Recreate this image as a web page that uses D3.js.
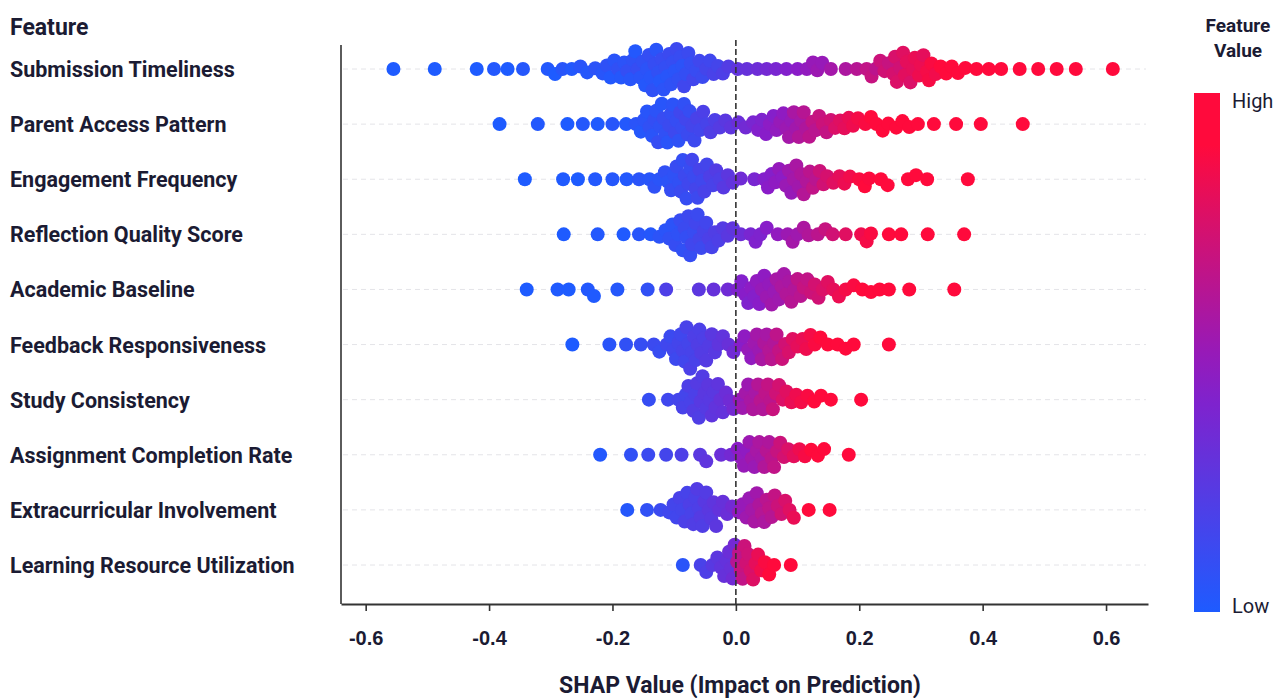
<!DOCTYPE html>
<html>
<head>
<meta charset="utf-8">
<script src="https://cdn.jsdelivr.net/npm/d3@7"></script>
<style>
  html, body { margin: 0; padding: 0; background: #fff; }
  svg { display: block; font-family: Roboto, "Noto Sans", sans-serif; }
</style>
</head>
<body>
<script>
// SHAP beeswarm: one row per feature, each dot is [shap value, feature value 0..1].
const features = [
  "Submission Timeliness", "Parent Access Pattern", "Engagement Frequency",
  "Reflection Quality Score", "Academic Baseline", "Feedback Responsiveness",
  "Study Consistency", "Assignment Completion Rate", "Extracurricular Involvement",
  "Learning Resource Utilization"
];
const xTicks = [-0.6, -0.4, -0.2, 0.0, 0.2, 0.4, 0.6];

const submissionTimeliness = [
  [-0.555,0],[-0.488,0],[-0.42,0],[-0.392,0.02],[-0.37,0],[-0.345,0.03],
  [-0.305,0.02],[-0.293,0],[-0.281,0.04],[-0.266,0.02],[-0.252,0.05],[-0.241,0.03],[-0.228,0.06],
  [-0.216,0.04],[-0.209,0.07],[-0.203,0.02],[-0.197,0.05],[-0.191,0.08],[-0.186,0.03],[-0.181,0.06],
  [-0.176,0.09],[-0.171,0.04],[-0.167,0.07],[-0.163,0.02],[-0.159,0.1],[-0.155,0.05],[-0.151,0.08],
  [-0.147,0.03],[-0.144,0.06],[-0.141,0.09],[-0.138,0.04],[-0.135,0.07],[-0.132,0.1],[-0.129,0.05],
  [-0.126,0.08],[-0.123,0.03],[-0.12,0.11],[-0.117,0.06],[-0.114,0.09],[-0.111,0.04],[-0.108,0.12],
  [-0.105,0.07],[-0.102,0.1],[-0.099,0.05],[-0.096,0.13],[-0.093,0.08],[-0.09,0.11],[-0.087,0.06],
  [-0.084,0.14],[-0.081,0.09],[-0.077,0.12],[-0.073,0.1],[-0.069,0.15],[-0.064,0.11],[-0.059,0.14],
  [-0.054,0.12],[-0.048,0.16],[-0.042,0.14],[-0.036,0.18],[-0.029,0.16],[-0.021,0.2],[-0.012,0.22],
  [0.003,0.28],[0.018,0.3],[0.035,0.33],[0.05,0.36],[0.065,0.38],[0.082,0.42],[0.1,0.45],[0.115,0.48],
  [0.125,0.5],[0.132,0.52],[0.14,0.5],[0.154,0.55],[0.178,0.58],[0.196,0.62],[0.212,0.66],[0.22,0.68],
  [0.227,0.64],[0.234,0.7],[0.241,0.72],[0.248,0.68],[0.255,0.74],[0.258,0.75],[0.261,0.76],[0.266,0.72],
  [0.271,0.78],[0.274,0.79],[0.277,0.8],[0.283,0.76],[0.287,0.8],[0.29,0.82],[0.297,0.84],[0.3,0.83],
  [0.304,0.8],[0.31,0.86],[0.313,0.87],[0.317,0.88],[0.324,0.85],[0.332,0.9],[0.341,0.92],[0.35,0.9],
  [0.36,0.94],[0.372,0.95],[0.39,0.96],[0.41,0.97],[0.43,0.98],[0.46,0.99],[0.49,1],[0.52,1],[0.551,1],[0.611,1]
];
const parentAccessPattern = [
  [-0.383,0],[-0.321,0.02],[-0.273,0],[-0.248,0.03],[-0.224,0.01],[-0.2,0.04],[-0.178,0.02],[-0.162,0.05],
  [-0.154,0.03],[-0.149,0.06],[-0.144,0.04],[-0.14,0.08],[-0.136,0.05],[-0.132,0.09],[-0.129,0.06],
  [-0.126,0.1],[-0.123,0.07],[-0.12,0.04],[-0.117,0.11],[-0.114,0.08],[-0.111,0.05],[-0.108,0.12],
  [-0.105,0.09],[-0.102,0.06],[-0.099,0.13],[-0.096,0.1],[-0.093,0.07],[-0.09,0.14],[-0.087,0.11],
  [-0.084,0.08],[-0.081,0.15],[-0.078,0.12],[-0.075,0.1],[-0.071,0.16],[-0.067,0.13],[-0.063,0.18],
  [-0.058,0.15],[-0.053,0.19],[-0.047,0.17],[-0.041,0.21],[-0.034,0.2],[-0.026,0.23],[-0.017,0.25],[-0.008,0.27],
  [0.004,0.32],[0.016,0.35],[0.028,0.38],[0.036,0.42],[0.042,0.4],[0.049,0.44],[0.055,0.46],[0.061,0.43],
  [0.066,0.48],[0.072,0.5],[0.077,0.47],[0.082,0.52],[0.086,0.55],[0.09,0.5],[0.094,0.57],[0.098,0.54],
  [0.102,0.6],[0.106,0.56],[0.11,0.62],[0.114,0.59],[0.119,0.64],[0.124,0.66],[0.129,0.63],[0.135,0.68],
  [0.141,0.7],[0.147,0.67],[0.154,0.72],[0.161,0.76],[0.169,0.78],[0.176,0.8],[0.183,0.82],[0.19,0.84],
  [0.198,0.86],[0.21,0.88],[0.219,0.9],[0.228,0.92],[0.238,0.9],[0.247,0.93],[0.26,0.95],[0.27,0.94],
  [0.281,0.96],[0.295,0.97],[0.321,0.98],[0.357,1],[0.397,1],[0.465,1]
];
const engagementFrequency = [
  [-0.342,0],[-0.28,0.01],[-0.256,0],[-0.228,0.02],[-0.2,0.03],[-0.177,0.02],[-0.157,0.05],[-0.14,0.04],
  [-0.132,0.07],[-0.124,0.05],[-0.115,0.08],[-0.11,0.06],[-0.105,0.1],[-0.1,0.07],[-0.096,0.11],
  [-0.092,0.08],[-0.089,0.12],[-0.086,0.09],[-0.083,0.13],[-0.08,0.1],[-0.077,0.14],[-0.074,0.11],
  [-0.071,0.15],[-0.068,0.12],[-0.065,0.16],[-0.062,0.13],[-0.059,0.17],[-0.055,0.14],[-0.051,0.18],
  [-0.047,0.16],[-0.042,0.2],[-0.037,0.18],[-0.032,0.22],[-0.026,0.2],[-0.02,0.24],[-0.013,0.26],[-0.005,0.28],
  [0.008,0.34],[0.03,0.38],[0.046,0.42],[0.052,0.45],[0.058,0.43],[0.064,0.47],[0.07,0.49],[0.076,0.46],
  [0.081,0.51],[0.086,0.53],[0.09,0.5],[0.094,0.55],[0.098,0.57],[0.102,0.54],[0.106,0.59],[0.11,0.61],
  [0.115,0.6],[0.12,0.64],[0.125,0.66],[0.13,0.63],[0.136,0.7],[0.142,0.72],[0.148,0.74],[0.158,0.78],
  [0.168,0.8],[0.176,0.83],[0.185,0.85],[0.2,0.88],[0.209,0.9],[0.216,0.89],[0.235,0.93],[0.246,0.95],
  [0.279,0.97],[0.292,0.98],[0.31,0.99],[0.376,1]
];
const reflectionQualityScore = [
  [-0.279,0],[-0.224,0.02],[-0.182,0.01],[-0.157,0.04],[-0.138,0.03],[-0.124,0.06],
  [-0.114,0.05],[-0.108,0.08],[-0.103,0.06],[-0.098,0.1],[-0.094,0.07],[-0.09,0.11],[-0.086,0.08],
  [-0.083,0.12],[-0.08,0.09],[-0.077,0.13],[-0.074,0.1],[-0.071,0.14],[-0.068,0.11],[-0.065,0.15],
  [-0.062,0.12],[-0.059,0.16],[-0.056,0.13],[-0.052,0.17],[-0.048,0.15],[-0.044,0.19],[-0.039,0.17],
  [-0.034,0.21],[-0.028,0.2],[-0.021,0.23],[-0.013,0.25],[-0.005,0.27],
  [0.008,0.33],[0.024,0.38],[0.032,0.41],[0.04,0.4],[0.05,0.44],[0.068,0.48],[0.084,0.52],[0.092,0.55],
  [0.1,0.53],[0.11,0.58],[0.118,0.6],[0.133,0.64],[0.145,0.68],[0.157,0.72],[0.178,0.78],[0.203,0.84],
  [0.212,0.86],[0.219,0.88],[0.248,0.92],[0.268,0.95],[0.311,0.98],[0.37,1]
];
const academicBaseline = [
  [-0.339,0],[-0.289,0.01],[-0.271,0],[-0.24,0.02],[-0.23,0.01],[-0.192,0.03],[-0.143,0.08],[-0.113,0.2],
  [-0.06,0.26],[-0.036,0.3],[-0.013,0.34],
  [0.003,0.4],[0.009,0.42],[0.015,0.44],[0.02,0.41],[0.025,0.46],[0.03,0.43],[0.034,0.48],[0.038,0.45],
  [0.042,0.5],[0.046,0.47],[0.05,0.52],[0.054,0.49],[0.058,0.54],[0.062,0.51],[0.066,0.56],[0.07,0.53],
  [0.074,0.58],[0.078,0.55],[0.082,0.6],[0.086,0.57],[0.09,0.62],[0.095,0.6],[0.1,0.65],[0.105,0.63],
  [0.11,0.68],[0.116,0.66],[0.122,0.7],[0.128,0.73],[0.134,0.72],[0.141,0.76],[0.149,0.78],[0.158,0.8],
  [0.167,0.83],[0.178,0.86],[0.191,0.88],[0.205,0.9],[0.219,0.92],[0.233,0.93],[0.248,0.95],[0.281,0.97],[0.354,1]
];
const feedbackResponsiveness = [
  [-0.265,0],[-0.205,0.05],[-0.178,0.08],[-0.154,0.1],[-0.133,0.12],[-0.124,0.11],
  [-0.112,0.14],[-0.106,0.12],[-0.101,0.15],[-0.097,0.13],[-0.093,0.16],[-0.089,0.14],[-0.086,0.17],
  [-0.083,0.15],[-0.08,0.18],[-0.077,0.16],[-0.074,0.19],[-0.071,0.17],[-0.068,0.2],[-0.065,0.18],
  [-0.062,0.21],[-0.059,0.19],[-0.056,0.22],[-0.052,0.2],[-0.048,0.23],[-0.044,0.22],[-0.039,0.25],
  [-0.034,0.24],[-0.028,0.27],[-0.021,0.28],[-0.012,0.31],[-0.004,0.34],
  [0.008,0.44],[0.014,0.47],[0.02,0.5],[0.025,0.48],[0.03,0.53],[0.034,0.55],[0.038,0.52],[0.042,0.57],
  [0.046,0.59],[0.05,0.56],[0.054,0.61],[0.058,0.63],[0.062,0.6],[0.066,0.65],[0.07,0.67],[0.075,0.7],
  [0.08,0.72],[0.086,0.75],[0.092,0.78],[0.1,0.8],[0.108,0.82],[0.114,0.84],[0.121,0.86],[0.128,0.88],
  [0.137,0.9],[0.149,0.92],[0.165,0.95],[0.178,0.96],[0.191,0.98],[0.248,1]
];
const studyConsistency = [
  [-0.141,0.1],[-0.11,0.14],[-0.093,0.16],
  [-0.086,0.18],[-0.081,0.16],[-0.077,0.2],[-0.073,0.18],[-0.069,0.22],[-0.066,0.19],[-0.063,0.23],
  [-0.06,0.21],[-0.057,0.24],[-0.054,0.22],[-0.051,0.25],[-0.048,0.23],[-0.045,0.26],[-0.042,0.24],
  [-0.039,0.27],[-0.036,0.25],[-0.033,0.28],[-0.029,0.27],[-0.025,0.3],[-0.021,0.29],[-0.016,0.32],
  [-0.01,0.34],[-0.004,0.36],
  [0.006,0.5],[0.011,0.53],[0.016,0.55],[0.02,0.52],[0.024,0.57],[0.028,0.59],[0.032,0.56],[0.036,0.61],
  [0.04,0.63],[0.044,0.6],[0.048,0.65],[0.052,0.67],[0.056,0.64],[0.06,0.69],[0.065,0.71],[0.07,0.73],
  [0.076,0.76],[0.082,0.78],[0.09,0.82],[0.098,0.84],[0.106,0.86],[0.116,0.88],[0.127,0.91],[0.138,0.93],
  [0.154,0.96],[0.203,1]
];
const assignmentCompletionRate = [
  [-0.22,0.02],[-0.17,0.08],[-0.142,0.12],[-0.113,0.16],[-0.088,0.2],[-0.058,0.25],[-0.048,0.27],
  [-0.024,0.32],[-0.008,0.36],
  [0.003,0.45],[0.008,0.48],[0.013,0.5],[0.018,0.47],[0.022,0.52],[0.026,0.54],[0.03,0.51],[0.034,0.56],
  [0.038,0.58],[0.042,0.55],[0.046,0.6],[0.05,0.62],[0.054,0.59],[0.058,0.64],[0.062,0.66],[0.067,0.68],
  [0.072,0.7],[0.078,0.73],[0.085,0.76],[0.094,0.8],[0.103,0.84],[0.112,0.87],[0.122,0.9],[0.133,0.93],
  [0.143,0.95],[0.183,1]
];
const extracurricularInvolvement = [
  [-0.176,0.03],[-0.144,0.08],[-0.122,0.12],[-0.108,0.14],
  [-0.101,0.16],[-0.096,0.15],[-0.091,0.18],[-0.087,0.16],[-0.083,0.19],[-0.079,0.17],[-0.075,0.2],
  [-0.072,0.18],[-0.069,0.21],[-0.066,0.19],[-0.063,0.22],[-0.06,0.2],[-0.057,0.23],[-0.054,0.21],
  [-0.051,0.24],[-0.048,0.22],[-0.044,0.25],[-0.04,0.24],[-0.036,0.27],[-0.032,0.26],[-0.027,0.29],
  [-0.021,0.3],[-0.014,0.32],[-0.006,0.35],
  [0.005,0.48],[0.011,0.5],[0.017,0.53],[0.022,0.51],[0.026,0.55],[0.03,0.57],[0.034,0.54],[0.038,0.59],
  [0.042,0.61],[0.046,0.58],[0.05,0.63],[0.054,0.65],[0.058,0.62],[0.063,0.67],[0.068,0.7],[0.074,0.72],
  [0.08,0.75],[0.087,0.78],[0.094,0.82],[0.118,0.9],[0.152,1]
];
const learningResourceUtilization = [
  [-0.086,0.05],[-0.057,0.18],[-0.048,0.2],[-0.038,0.24],[-0.03,0.26],[-0.024,0.28],[-0.019,0.3],
  [-0.015,0.29],[-0.011,0.32],[-0.008,0.31],[-0.005,0.34],[-0.002,0.36],
  [0.002,0.62],[0.005,0.65],[0.008,0.68],[0.011,0.66],[0.014,0.7],[0.017,0.72],[0.02,0.71],[0.024,0.75],
  [0.028,0.77],[0.032,0.8],[0.036,0.82],[0.041,0.85],[0.047,0.88],[0.054,0.92],[0.062,0.95],[0.089,1]
];

const rows = [
  submissionTimeliness, parentAccessPattern, engagementFrequency, reflectionQualityScore,
  academicBaseline, feedbackResponsiveness, studyConsistency, assignmentCompletionRate,
  extracurricularInvolvement, learningResourceUtilization
];

const W = 1286, H = 698;
const ink = "#1b1b33";
const R = 7;        // dot radius
const GAP = 9;      // beeswarm spacing (dots overlap a bit, like the original)

const svg = d3.select("body").append("svg").attr("width", W).attr("height", H);

const x = d3.scaleLinear().domain([-0.64, 0.668]).range([341, 1148]);
const y = d3.scalePoint().domain(features).range([69, 565]);
const color = d3.scaleLinear().domain([0, 0.45, 0.9]).range(["#1e5bff", "#8a1cc8", "#ff0a3c"]).clamp(true);

// Simple beeswarm: walk points left to right, put each at the smallest offset that clears its neighbours.
function swarm(vals) {
  const pts = vals.map((v) => ({ v: v[0], f: v[1], px: x(v[0]) })).sort((a, b) => a.px - b.px);
  const placed = [];
  let flip = 1;
  for (const p of pts) {
    const near = placed.filter((q) => Math.abs(q.px - p.px) < GAP);
    const cands = [0];
    near.forEach((q) => {
      const h = Math.sqrt(GAP * GAP - (q.px - p.px) ** 2);
      cands.push(q.dy + h, q.dy - h);
    });
    cands.sort((a, b) => (Math.abs(a) + (a * flip < 0 ? 1e-6 : 0)) - (Math.abs(b) + (b * flip < 0 ? 1e-6 : 0)));
    let best = 0;
    for (const c of cands) {
      if (near.every((q) => (q.px - p.px) ** 2 + (q.dy - c) ** 2 >= GAP * GAP - 0.01)) { best = c; break; }
    }
    if (best !== 0) flip = -flip;
    p.dy = best;
    placed.push(p);
  }
  return pts;
}

// faint dashed row guides
svg.append("g").selectAll("line").data(features).join("line")
  .attr("x1", 343).attr("x2", 1146)
  .attr("y1", (d) => y(d)).attr("y2", (d) => y(d))
  .attr("stroke", "#e4e4e8").attr("stroke-width", 1).attr("stroke-dasharray", "5,4");

// dots
const dots = svg.append("g");
rows.forEach((vals, i) => {
  const cy = y(features[i]);
  dots.append("g").selectAll("circle").data(swarm(vals)).join("circle")
    .attr("cx", (d) => d.px)
    .attr("cy", (d) => cy + d.dy)
    .attr("r", R)
    .attr("fill", (d) => color(d.f));
});

// zero line, drawn over the dots
svg.append("line")
  .attr("x1", x(0)).attr("x2", x(0)).attr("y1", 40).attr("y2", 604)
  .attr("stroke", "#333").attr("stroke-width", 1.6).attr("stroke-dasharray", "6,3");

// left axis line
svg.append("line")
  .attr("x1", 341).attr("x2", 341).attr("y1", 45).attr("y2", 604)
  .attr("stroke", "#333").attr("stroke-width", 1.6);

// x axis
const xAxis = svg.append("g").attr("transform", "translate(0,604)")
  .call(d3.axisBottom(x).tickValues(xTicks).tickSize(7).tickSizeOuter(0).tickPadding(20));
xAxis.select(".domain").attr("stroke", "#333").attr("stroke-width", 1.8);
xAxis.selectAll(".tick line").attr("stroke", "#333").attr("stroke-width", 1.6);
xAxis.selectAll(".tick text")
  .attr("fill", ink).attr("font-size", 20).attr("font-weight", 700)
  .text((d) => d3.format(".1f")(d).replace("−", "-"));

svg.append("text")
  .attr("x", 740).attr("y", 693).attr("text-anchor", "middle")
  .attr("fill", ink).attr("font-size", 23).attr("font-weight", 700)
  .text("SHAP Value (Impact on Prediction)");

// feature labels
svg.append("text").attr("x", 10).attr("y", 35)
  .attr("fill", ink).attr("font-size", 23).attr("font-weight", 700).text("Feature");
svg.append("g").selectAll("text").data(features).join("text")
  .attr("x", 10).attr("y", (d) => y(d) + 8)
  .attr("fill", ink).attr("font-size", 21.5).attr("font-weight", 700)
  .text((d) => d);

// colour bar
const grad = svg.append("defs").append("linearGradient")
  .attr("id", "fv-grad").attr("x1", 0).attr("y1", 1).attr("x2", 0).attr("y2", 0);
d3.range(0, 1.001, 0.1).forEach((t) =>
  grad.append("stop").attr("offset", t).attr("stop-color", color(t)));
svg.append("rect")
  .attr("x", 1194).attr("y", 93).attr("width", 26).attr("height", 519)
  .attr("fill", "url(#fv-grad)");
svg.append("text").attr("x", 1232).attr("y", 108)
  .attr("fill", ink).attr("font-size", 20).attr("font-weight", 400).text("High");
svg.append("text").attr("x", 1232).attr("y", 613)
  .attr("fill", ink).attr("font-size", 20).attr("font-weight", 400).text("Low");
const cbTitle = svg.append("text").attr("text-anchor", "middle")
  .attr("fill", ink).attr("font-size", 19).attr("font-weight", 700);
cbTitle.append("tspan").attr("x", 1238).attr("y", 32).text("Feature");
cbTitle.append("tspan").attr("x", 1238).attr("y", 57).text("Value");
</script>
</body>
</html>
